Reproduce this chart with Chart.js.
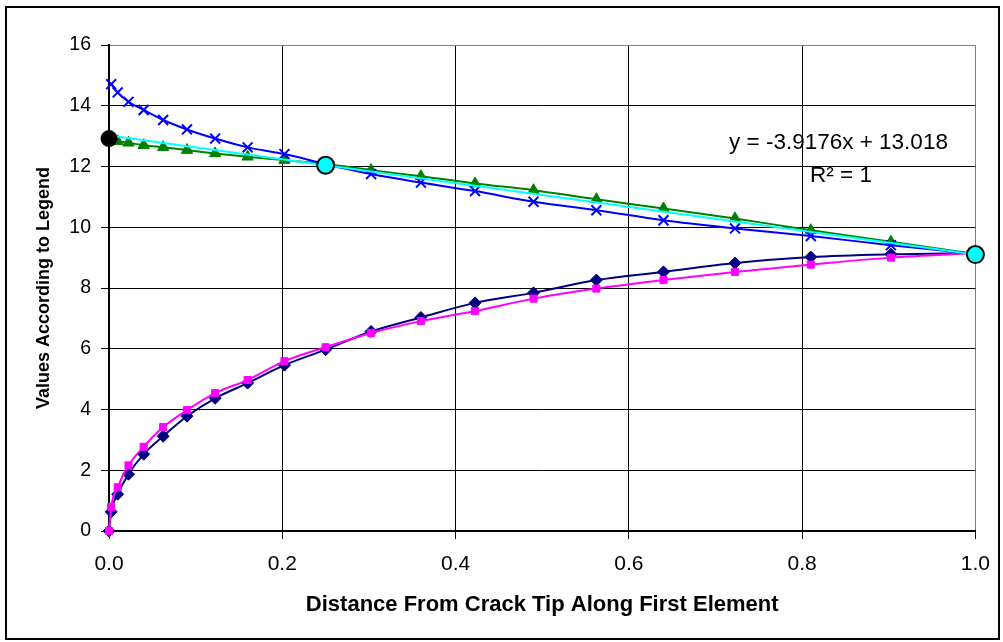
<!DOCTYPE html>
<html>
<head>
<meta charset="utf-8">
<script src="https://cdn.jsdelivr.net/npm/chart.js@4.4.0/dist/chart.umd.min.js"></script>
<style>
  body { margin: 0; background: #fff; }
  #wrap { width: 1003px; height: 642px; }
</style>
</head>
<body>
<div id="wrap"><canvas id="chart" width="1003" height="642"></canvas></div>
<script>
// distance along the element (nodes are bunched toward the crack tip)
const xDist = [0, 0.0025, 0.01, 0.0225, 0.04, 0.0625, 0.09, 0.1225, 0.16, 0.2025,
               0.25, 0.3025, 0.36, 0.4225, 0.49, 0.5625, 0.64, 0.7225, 0.81, 0.9025, 1.0];

const navyVals    = [0, 0.63, 1.21, 1.87, 2.53, 3.12, 3.78, 4.37, 4.87, 5.46,
                     5.97, 6.57, 7.03, 7.51, 7.84, 8.26, 8.53, 8.82, 9.02, 9.11, 9.15];
const magentaVals = [0, 0.79, 1.44, 2.16, 2.77, 3.42, 3.98, 4.54, 4.97, 5.59,
                     6.05, 6.52, 6.91, 7.24, 7.65, 7.98, 8.26, 8.53, 8.77, 9.0, 9.15];
const blueVals    = [null, 14.71, 14.44, 14.13, 13.86, 13.53, 13.22, 12.92, 12.63, 12.41,
                     12.08, 11.75, 11.47, 11.19, 10.84, 10.56, 10.23, 9.96, 9.71, 9.41, 9.12];
const greenVals   = [12.95, 12.88, 12.83, 12.78, 12.7, 12.63, 12.54, 12.43, 12.32, 12.21,
                     12.08, 11.88, 11.68, 11.44, 11.22, 10.92, 10.62, 10.29, 9.9, 9.52, 9.12];

// two fitted points + trendline
const fitX = [0.25, 1.0];
const fitY = [12.04, 9.10];
const slope = -3.9176;
const intercept = 13.018;
const interceptMark = [12.92];
const trendX = [0, 1];

const xTicks = [0, 0.2, 0.4, 0.6, 0.8, 1.0];
const yTicks = [0, 2, 4, 6, 8, 10, 12, 14, 16];

function pts(xs, ys) {
  return xs.map((x, i) => ({ x: x, y: ys[i] }));
}

const frame = {
  id: 'frame',
  beforeDraw(chart) {
    const c = chart.ctx;
    c.save();
    c.fillStyle = '#fff';
    c.fillRect(0, 0, chart.width, chart.height);
    c.strokeStyle = '#000';
    c.lineWidth = 2;
    c.strokeRect(6, 7, 993, 632);
    c.restore();
  },
  afterDraw(chart) {
    const c = chart.ctx;
    c.save();
    c.fillStyle = '#000';
    c.font = '22.5px "Liberation Sans", Arial, sans-serif';
    c.textBaseline = 'alphabetic';
    c.textAlign = 'left';
    c.fillText('y = ' + slope + 'x + ' + intercept, 729, 149);
    c.fillText('R\u00B2 = 1', 810, 182);
    c.restore();
  }
};

const ctx = document.getElementById('chart');
new Chart(ctx, {
  type: 'scatter',
  data: {
    datasets: [
      {
        label: 'intercept',
        data: pts([0], interceptMark),
        pointStyle: 'circle', pointRadius: 8,
        backgroundColor: '#000', borderColor: '#000', borderWidth: 1,
        showLine: false, clip: false
      },
      {
        label: 'fit points',
        data: pts(fitX, fitY),
        pointStyle: 'circle', pointRadius: 8.5,
        backgroundColor: '#00FFFF', borderColor: '#000', borderWidth: 2,
        showLine: false, clip: false
      },
      {
        label: 'trend',
        data: pts(trendX, trendX.map(x => slope * x + intercept)),
        showLine: true, pointRadius: 0,
        borderColor: '#00FFFF', borderWidth: 2
      },
      {
        label: 'blue',
        data: pts(xDist, blueVals),
        showLine: true, cubicInterpolationMode: 'monotone', clip: false,
        borderColor: '#0000FF', borderWidth: 2,
        pointStyle: 'crossRot', pointRadius: 7, pointBorderWidth: 2,
        pointBorderColor: '#0000FF', pointBackgroundColor: '#0000FF'
      },
      {
        label: 'green',
        data: pts(xDist, greenVals),
        showLine: true, cubicInterpolationMode: 'monotone', clip: false,
        borderColor: '#008000', borderWidth: 2,
        pointStyle: 'triangle', pointRadius: 6.5, pointBorderWidth: 1,
        pointBorderColor: '#008000', pointBackgroundColor: '#008000'
      },
      {
        label: 'magenta',
        data: pts(xDist, magentaVals),
        showLine: true, cubicInterpolationMode: 'monotone', clip: false,
        borderColor: '#FF00FF', borderWidth: 2,
        pointStyle: 'rect', pointRadius: 5, pointBorderWidth: 1,
        pointBorderColor: '#FF00FF', pointBackgroundColor: '#FF00FF'
      },
      {
        label: 'navy',
        data: pts(xDist, navyVals),
        showLine: true, cubicInterpolationMode: 'monotone', clip: false,
        borderColor: '#000080', borderWidth: 2,
        pointStyle: 'rectRot', pointRadius: 6, pointBorderWidth: 1,
        pointBorderColor: '#000080', pointBackgroundColor: '#000080'
      }
    ]
  },
  options: {
    responsive: false,
    animation: false,
    layout: { padding: { left: 0, top: 45, right: 27, bottom: 0 } },
    plugins: { legend: { display: false }, tooltip: { enabled: false } },
    scales: {
      x: {
        type: 'linear', min: 0, max: 1,
        afterBuildTicks: s => { s.ticks = xTicks.map(v => ({ value: v })); },
        afterFit: s => { s.height = 111; },
        ticks: {
          color: '#000', padding: 13,
          font: { family: '"Liberation Sans", Arial, sans-serif', size: 21 },
          callback: v => Number(v).toFixed(1)
        },
        grid: {
          color: c => (c.tick && c.tick.value === 1) ? '#808080' : '#000',
          lineWidth: 1, tickLength: 8, tickColor: '#000', tickWidth: 1
        },
        border: { display: true, color: '#000', width: 2 },
        title: {
          display: true, text: 'Distance From Crack Tip Along First Element',
          color: '#000', padding: { top: 0, bottom: 24 },
          font: { family: '"Liberation Sans", Arial, sans-serif', size: 22, weight: 'bold' }
        }
      },
      y: {
        type: 'linear', min: 0, max: 16,
        afterBuildTicks: s => { s.ticks = yTicks.map(v => ({ value: v })); },
        afterFit: s => { s.width = 109; },
        ticks: {
          color: '#000', padding: 10,
          font: { family: '"Liberation Sans", Arial, sans-serif', size: 19.5 }
        },
        grid: {
          color: c => (c.tick && c.tick.value === 16) ? '#808080' : '#000',
          lineWidth: 1, tickLength: 8, tickColor: '#000', tickWidth: 1
        },
        border: { display: true, color: '#000', width: 2 },
        title: {
          display: true, text: 'Values According to Legend',
          color: '#000', padding: { top: 33, bottom: 0 },
          font: { family: '"Liberation Sans", Arial, sans-serif', size: 18, weight: 'bold' }
        }
      }
    }
  },
  plugins: [frame]
});
</script>
</body>
</html>
